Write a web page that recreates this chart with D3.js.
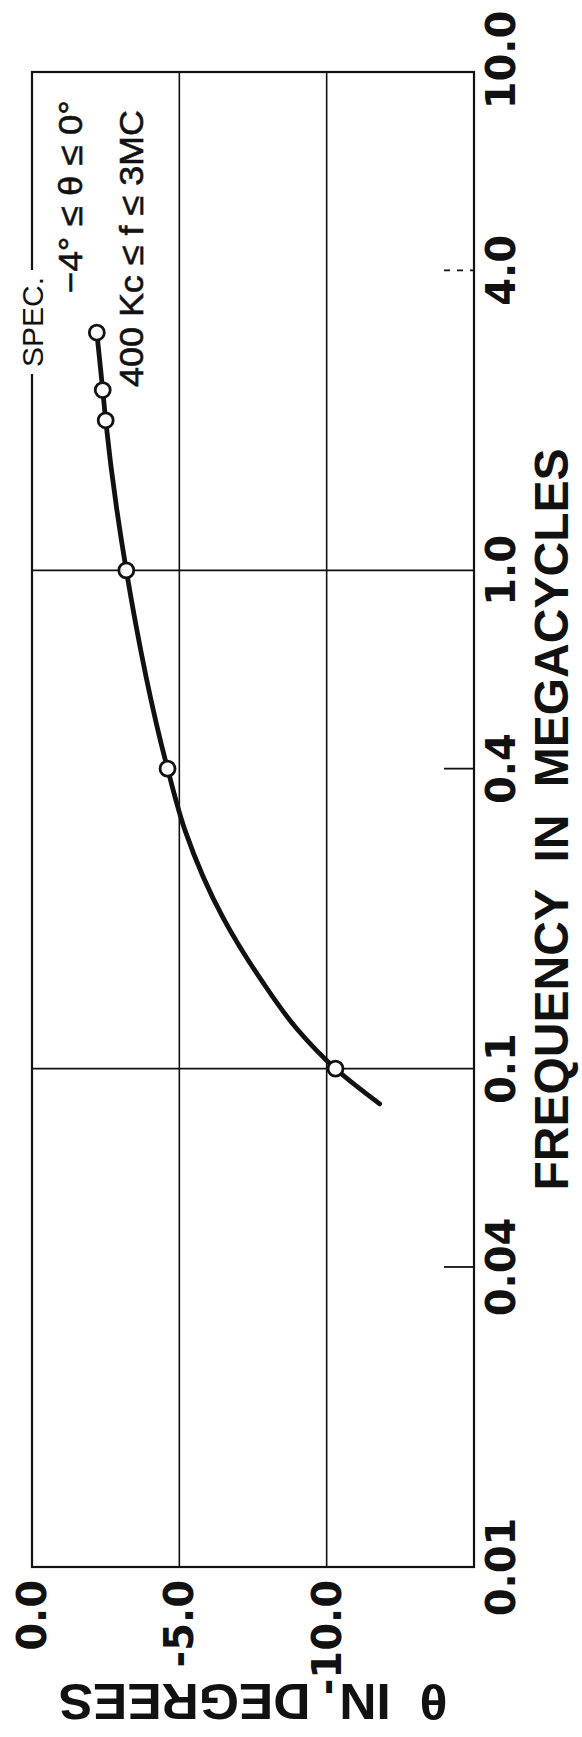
<!DOCTYPE html>
<html>
<head>
<meta charset="utf-8">
<script src="https://cdn.jsdelivr.net/npm/d3@7"></script>
<style>
  body { margin: 0; background: #fff; }
  svg { display: block; }
</style>
</head>
<body>
<svg id="chart" width="582" height="1737"></svg>
<script>
// frequency axis (log, MC) runs bottom -> top, theta axis runs left -> right
const freqTicks = [0.01, 0.04, 0.1, 0.4, 1, 4, 10]
const freqTickLabels = ['0.01', '0.04', '0.1', '0.4', '1.0', '4.0', '10.0']
const freqGrid = [0.1, 1]
const freqShortTicks = [0.04, 0.4, 4]

const thetaTicks = [0, -5, -10]
const thetaTickLabels = ['0.0', '-5.0', '-10.0']
const thetaGrid = [-5, -10]

// measured points (circles)
const measuredFreq = [3.0, 2.3, 2.0, 1.0, 0.4, 0.1]
const measuredTheta = [-2.2, -2.4, -2.5, -3.2, -4.6, -10.3]

// hand drawn curve
const curveFreq = [3.0, 2.3, 2.0, 1.0, 0.4, 0.3, 0.2, 0.15, 0.12, 0.1, 0.085]
const curveTheta = [-2.2, -2.4, -2.5, -3.2, -4.6, -5.2, -6.5, -7.8, -9.0, -10.3, -11.8]

const specLines = ['\u22124\u00b0 \u2264 \u03b8 \u2264 0\u00b0', '400 Kc \u2264 f \u2264 3MC']

const svg = d3.select('#chart')
const ink = '#111'

const x = d3.scaleLinear()
  .domain([0, -15])
  .range([32, 474])

const y = d3.scaleLog()
  .domain([0.01, 10])
  .range([1567, 72])

const g = svg.append('g')

// grid lines
g.selectAll('.vgrid')
  .data(thetaGrid)
  .enter()
  .append('line')
  .attr('x1', d => x(d))
  .attr('x2', d => x(d))
  .attr('y1', y(10))
  .attr('y2', y(0.01))
  .attr('stroke', ink)
  .attr('stroke-width', 1.6)

g.selectAll('.hgrid')
  .data(freqGrid)
  .enter()
  .append('line')
  .attr('x1', x(0))
  .attr('x2', x(-15))
  .attr('y1', d => y(d))
  .attr('y2', d => y(d))
  .attr('stroke', ink)
  .attr('stroke-width', 1.8)

g.selectAll('.stick')
  .data(freqShortTicks)
  .enter()
  .append('line')
  .attr('x1', x(-15) - 30)
  .attr('x2', x(-15))
  .attr('y1', d => y(d))
  .attr('y2', d => y(d))
  .attr('stroke', ink)
  .attr('stroke-width', 1.8)
  .attr('stroke-dasharray', d => d === 4 ? '6,7' : null)

// frame
g.append('rect')
  .attr('x', x(0))
  .attr('y', y(10))
  .attr('width', x(-15) - x(0))
  .attr('height', y(0.01) - y(10))
  .attr('fill', 'none')
  .attr('stroke', ink)
  .attr('stroke-width', 2.2)

// theta tick labels along bottom
g.selectAll('.tlabel')
  .data(thetaTicks)
  .enter()
  .append('text')
  .attr('transform', d => `translate(${x(d)},${y(0.01) + 13}) rotate(-90)`)
  .attr('text-anchor', 'end')
  .attr('dominant-baseline', 'central')
  .attr('font-family', 'DejaVu Sans')
  .attr('font-weight', 'bold')
  .attr('font-size', 40)
  .attr('fill', ink)
  .text((d, i) => thetaTickLabels[i])

// frequency tick labels along right
g.selectAll('.flabel')
  .data(freqTicks)
  .enter()
  .append('text')
  .attr('transform', d => `translate(501,${y(d) - (d === 10 ? 12 : 0)}) rotate(-90)`)
  .attr('text-anchor', 'middle')
  .attr('dominant-baseline', 'central')
  .attr('font-family', 'DejaVu Sans')
  .attr('font-weight', 'bold')
  .attr('font-size', 40)
  .attr('fill', ink)
  .text((d, i) => freqTickLabels[i])

// axis titles
g.append('text')
  .attr('transform', `translate(551,${(y(0.01) + y(10)) / 2}) rotate(-90)`)
  .attr('text-anchor', 'middle')
  .attr('dominant-baseline', 'central')
  .attr('font-family', 'Liberation Sans')
  .attr('font-weight', 'bold')
  .attr('font-size', 48)
  .attr('word-spacing', 14)
  .attr('textLength', 742)
  .attr('lengthAdjust', 'spacingAndGlyphs')
  .attr('fill', ink)
  .text('FREQUENCY IN MEGACYCLES')

g.append('text')
  .attr('transform', `translate(${(x(0) + x(-15)) / 2},1701) rotate(180)`)
  .attr('text-anchor', 'middle')
  .attr('dominant-baseline', 'central')
  .attr('font-family', 'Liberation Sans')
  .attr('font-weight', 'bold')
  .attr('font-size', 50)
  .attr('word-spacing', 14)
  .attr('textLength', 389)
  .attr('lengthAdjust', 'spacingAndGlyphs')
  .attr('fill', ink)
  .text('\u03b8 IN DEGREES')

// SPEC. label breaks the 0 degree line
const specLabel = g.append('text')
  .attr('transform', `translate(${x(0)},322) rotate(-90)`)
  .attr('text-anchor', 'middle')
  .attr('dominant-baseline', 'central')
  .attr('font-family', 'Liberation Sans')
  .attr('font-size', 30)
  .attr('fill', ink)
  .text('SPEC.')

g.insert('rect', () => specLabel.node())
  .attr('x', x(0) - 14)
  .attr('y', 322 - 52)
  .attr('width', 28)
  .attr('height', 104)
  .attr('fill', '#fff')

const specX = [70, 131]
const specTop = [100, 110]
const specLen = [193, 277]

g.selectAll('.spec')
  .data(specLines)
  .enter()
  .append('text')
  .attr('transform', (d, i) => `translate(${specX[i]},${specTop[i]}) rotate(-90)`)
  .attr('text-anchor', 'end')
  .attr('dominant-baseline', 'central')
  .attr('font-family', 'Liberation Sans')
  .attr('font-size', 34)
  .attr('stroke', ink)
  .attr('stroke-width', 0.6)
  .attr('textLength', (d, i) => specLen[i])
  .attr('lengthAdjust', 'spacingAndGlyphs')
  .attr('fill', ink)
  .text(d => d)

// curve
const curvePts = curveFreq.map((f, i) => [f, curveTheta[i]])
const line = d3.line()
  .x(d => x(d[1]))
  .y(d => y(d[0]))
  .curve(d3.curveMonotoneY)

g.append('path')
  .datum(curvePts)
  .attr('d', line)
  .attr('fill', 'none')
  .attr('stroke', ink)
  .attr('stroke-width', 4.8)
  .attr('stroke-linecap', 'round')

// measured points
g.selectAll('.pt')
  .data(measuredFreq)
  .enter()
  .append('circle')
  .attr('cx', (d, i) => x(measuredTheta[i]))
  .attr('cy', d => y(d))
  .attr('r', 7.5)
  .attr('fill', '#fff')
  .attr('stroke', ink)
  .attr('stroke-width', 2.8)
</script>
</body>
</html>
